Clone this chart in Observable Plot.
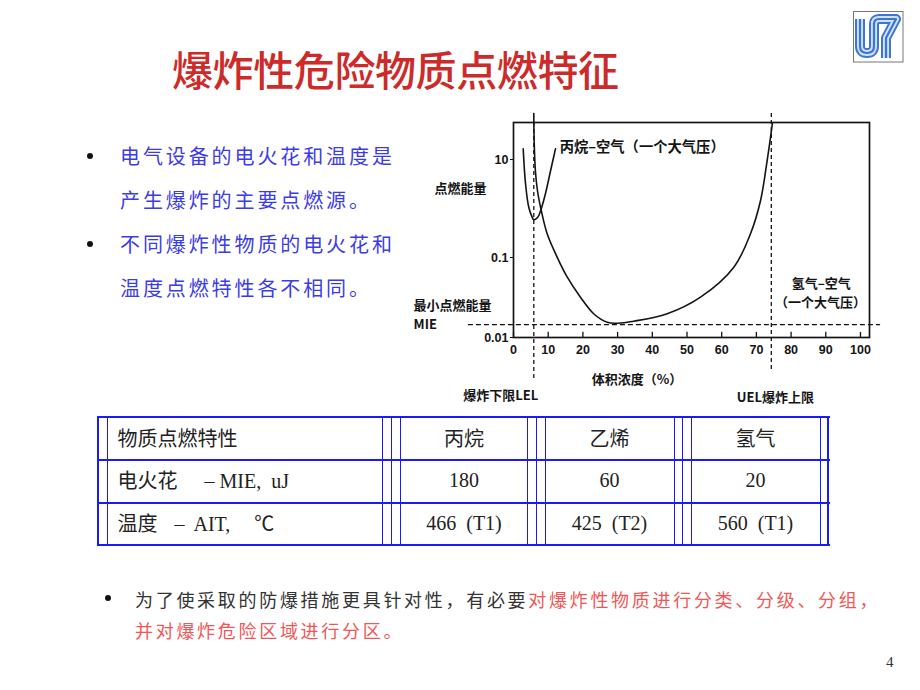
<!DOCTYPE html>
<html>
<head>
<meta charset="utf-8">
<script src="https://cdn.jsdelivr.net/npm/d3@7"></script>
<script src="https://cdn.jsdelivr.net/npm/@observablehq/plot@0.6"></script>
<style>
  body { margin: 0; background: #fff; }
  #slide { position: relative; width: 920px; height: 690px; overflow: hidden; background: #fff;
           font-family: "Noto Sans CJK SC", "Noto Sans", sans-serif; }
  #chart { position: absolute; left: 0; top: 0; }
  #chart svg { background: transparent; }
  .abs { position: absolute; white-space: nowrap; }
  .title { left: 172px; top: 46px; font-size: 41px; line-height: 44px; color: #cd2a2a; font-weight: 500; letter-spacing: -0.4px; }
  .bl { left: 120px; font-size: 20px; line-height: 30px; height: 30px; color: #3c3ce6; letter-spacing: 2.9px; }
  .dot { position: absolute; width: 6px; height: 6px; border-radius: 50%; background: #111; }
  .hl { position: absolute; background: #1a1aff; height: 2px; }
  .vl { position: absolute; background: #1a1aff; width: 1px; }
  .cell { position: absolute; height: 30px; line-height: 30px; font-size: 20px; color: #222; white-space: nowrap; }
  .num { font-family: "Liberation Serif", "Noto Sans CJK SC", serif; }
  .ctr { transform: translateX(-50%); }
  .bottom { left: 135px; font-size: 18px; line-height: 30px; height: 30px; color: #333; letter-spacing: 2.7px; }
  .red { color: #f25555; }
  .page { left: 886px; top: 654px; font-family: "Liberation Serif", serif; font-size: 15px; color: #333; }
</style>
</head>
<body>
<div id="slide">
  <div id="chart"></div>
  <svg class="abs" style="left:853px;top:11px" width="51" height="52" viewBox="853 11 51 52">
    <rect x="853.5" y="11.5" width="49.5" height="50.5" fill="#fff" stroke="#777" stroke-width="1"/>
    <path d="M860 19 V46 Q860 53 867 53 Q874 53 874 46 V24 Q874 19 879 19 H896 L886 38 V58" fill="none" stroke="#3d74d6" stroke-width="10" stroke-linejoin="round"/>
    <path d="M860 19 V46 Q860 53 867 53 Q874 53 874 46 V24 Q874 19 879 19 H896 L886 38 V58" fill="none" stroke="#cfe3ff" stroke-width="6" stroke-linejoin="round"/>
    <path d="M860 19 V46 Q860 53 867 53 Q874 53 874 46 V24 Q874 19 879 19 H896 L886 38 V58" fill="none" stroke="#3d74d6" stroke-width="2.2" stroke-linejoin="round"/>
  </svg>
  <div class="abs title" id="title"></div>
  <div id="bullets"></div>
  <div id="table"></div>
  <div id="bottom"></div>
  <div class="abs page">4</div>
</div>
<script>
// ---------- data ----------
const titleText = "爆炸性危险物质点燃特征";
const bulletLines = [
  ["电气设备的电火花和温度是", "产生爆炸的主要点燃源。"],
  ["不同爆炸性物质的电火花和", "温度点燃特性各不相同。"]
];
const bottomBlack = "为了使采取的防爆措施更具针对性，有必要";
const bottomRed1 = "对爆炸性物质进行分类、分级、分组，";
const bottomRed2 = "并对爆炸危险区域进行分区。";

const tableHeader = ["物质点燃特性", "丙烷", "乙烯", "氢气"];
const mieValues = ["180", "60", "20"];
const aitValues = ["466  (T1)", "425  (T2)", "560  (T1)"];

// chart: volume concentration (%) vs ignition energy (log)
const propaneX = [2.8, 3.46, 4.4, 5.4, 5.85, 7.0, 8.0, 9.2, 10.7, 12.1];
const propaneY = [16.5, 3.24, 1.06, 0.66, 0.59, 0.66, 0.99, 2.0, 5.97, 16.5];
const hydrogenX = [5.85, 5.95, 6.3, 6.9, 8.0, 9.7, 12.6, 15.5, 19.3, 23.1, 27.0, 29.9, 34.7, 44.3, 53.9, 63.5, 68.3, 71.2, 73.1, 74.6];
const hydrogenY = [87, 24.4, 5.97, 2.33, 0.91, 0.305, 0.101, 0.0568, 0.0319, 0.0198, 0.0155, 0.0151, 0.016, 0.0198, 0.0319, 0.0756, 0.305, 1.46, 9.5, 53.6];
const mieLevel = 0.0145;
const lelX = 5.85;
const uelX = 74.3;
const xTicks = [0, 10, 20, 30, 40, 50, 60, 70, 80, 90, 100];
const yTicks = [0.01, 0.1, 10];
const yBreaks = [0.01, 0.1, 10, 57];
const curveLabels = [
  {text: "丙烷–空气（一个大气压）", x: 13.3, y: 17.6}
];
const startLabels = [
  {text: "最小点燃能量", x: -28.8, y: 0.0250},
  {text: "MIE", x: -28.8, y: 0.0145}
];
const middleLabels = [
  {text: "点燃能量", x: -15.3, y: 2.56},
  {text: "氢气–空气", x: 88.7, y: 0.0475},
  {text: "（一个大气压）", x: 88.5, y: 0.0275},
  {text: "体积浓度（%）", x: 35.6, y: 0.0030},
  {text: "爆炸下限LEL", x: -3.7, y: 0.00188},
  {text: "UEL爆炸上限", x: 75.5, y: 0.00178}
];

// ---------- slide text ----------
document.getElementById("title").textContent = titleText;

const bulletCenters = [[155.7, 200], [244.3, 288.3]];
const bDiv = document.getElementById("bullets");
bulletLines.forEach((lines, i) => {
  const dot = document.createElement("div");
  dot.className = "dot";
  dot.style.left = "87px"; dot.style.top = (bulletCenters[i][0] - 3) + "px";
  bDiv.appendChild(dot);
  lines.forEach((t, j) => {
    const d = document.createElement("div");
    d.className = "abs bl";
    d.style.top = (bulletCenters[i][j] - 15) + "px";
    d.textContent = t;
    bDiv.appendChild(d);
  });
});

// bottom bullet
const bot = document.getElementById("bottom");
const bdot = document.createElement("div");
bdot.className = "dot"; bdot.style.left = "105px"; bdot.style.top = "595px";
bot.appendChild(bdot);
const l1 = document.createElement("div");
l1.className = "abs bottom"; l1.style.top = (598.5 - 15) + "px";
l1.innerHTML = bottomBlack + '<span class="red">' + bottomRed1 + '</span>';
bot.appendChild(l1);
const l2 = document.createElement("div");
l2.className = "abs bottom red"; l2.style.top = (630 - 15) + "px";
l2.textContent = bottomRed2;
bot.appendChild(l2);

// ---------- table ----------
const tb = document.getElementById("table");
const hLines = [417, 460, 502.7, 545];
const vLines = [97.7, 107.3, 382.3, 391, 400, 527.7, 536.7, 545, 674, 682.7, 691, 820, 828.3];
hLines.forEach(y => {
  const d = document.createElement("div");
  d.className = "hl";
  d.style.left = "97px"; d.style.width = "733px"; d.style.top = (y - 1) + "px";
  tb.appendChild(d);
});
vLines.forEach((x, i) => {
  const d = document.createElement("div");
  d.className = "vl";
  const outer = i === 0 || i === vLines.length - 1;
  d.style.width = outer ? "2px" : "1px";
  d.style.left = (x - (outer ? 1 : 0.5)) + "px";
  d.style.top = "416px"; d.style.height = "130px";
  tb.appendChild(d);
});
const rowCenters = [437.5, 480, 522.5];
const colCenters = [464, 609.5, 755.5];
function cell(html, x, yc, cls) {
  const d = document.createElement("div");
  d.className = "cell " + (cls || "");
  d.style.left = x + "px"; d.style.top = (yc - 15) + "px";
  d.innerHTML = html;
  tb.appendChild(d);
}
cell(tableHeader[0], 117.5, rowCenters[0]);
cell('电火花<span class="num" style="margin-left:27px">–</span><span class="num" style="margin-left:5px">MIE,&nbsp;&nbsp;uJ</span>', 117.5, rowCenters[1]);
cell('温度<span class="num" style="margin-left:17px">–</span><span class="num" style="margin-left:9px">AIT,</span><span style="margin-left:24px">℃</span>', 117.5, rowCenters[2]);
colCenters.forEach((cx, i) => {
  cell(tableHeader[i + 1], cx, rowCenters[0], "ctr");
  cell(mieValues[i], cx, rowCenters[1], "num ctr");
  cell(aitValues[i].replace(/ /g, "&nbsp;"), cx, rowCenters[2], "num ctr");
});

// ---------- chart ----------
const propane = propaneX.map((x, i) => ({x, y: propaneY[i]}));
const hydrogen = hydrogenX.map((x, i) => ({x, y: hydrogenY[i]}));
const ink = "#141414";
const cjk = "'Noto Sans CJK SC', 'Liberation Sans', sans-serif";

const plot = Plot.plot({
  width: 920,
  height: 690,
  marginLeft: 513,
  marginRight: 51,
  marginTop: 122,
  marginBottom: 353,
  style: {background: "transparent", fontFamily: "'Liberation Sans', Arial, sans-serif", fontSize: "12.5px", fontWeight: "bold", color: ink},
  x: {domain: [0, 102.6], range: [513, 869], ticks: xTicks, tickSize: 0, tickPadding: 8, tickFormat: d => String(d), label: null},
  y: {type: "log", domain: yBreaks, range: [337, 257, 159, 122], ticks: yTicks, tickSize: 3, tickPadding: 2, tickFormat: d => String(d), label: null},
  marks: [
    Plot.frame({stroke: ink, strokeWidth: 1.7}),
    Plot.ruleX(xTicks, {x: d => d, y1: 0.01, y2: 0.0116, stroke: ink, strokeWidth: 1.3}),
    Plot.ruleY([mieLevel], {y: d => d, x1: -13, x2: 105.8, stroke: ink, strokeWidth: 1.3, strokeDasharray: "5,3"}),
    Plot.ruleX([lelX], {x: d => d, y1: 57, y2: 0.0029, stroke: ink, strokeWidth: 1.3, strokeDasharray: "4,3"}),
    Plot.ruleX([uelX], {x: d => d, y1: 87, y2: 0.0039, stroke: ink, strokeWidth: 1.3, strokeDasharray: "4,3"}),
    Plot.line(propane, {x: "x", y: "y", curve: "catmull-rom", stroke: ink, strokeWidth: 1.6}),
    Plot.line(hydrogen, {x: "x", y: "y", curve: "catmull-rom", stroke: ink, strokeWidth: 1.6}),
    Plot.text(curveLabels, {x: "x", y: "y", text: "text", textAnchor: "start", fontFamily: cjk, fontSize: 14.3, fontWeight: "bold", fill: ink}),
    Plot.text(startLabels, {x: "x", y: "y", text: "text", textAnchor: "start", fontFamily: cjk, fontSize: 13, fontWeight: "bold", fill: ink}),
    Plot.text(middleLabels, {x: "x", y: "y", text: "text", textAnchor: "middle", fontFamily: cjk, fontSize: 13, fontWeight: "bold", fill: ink})
  ]
});
document.getElementById("chart").appendChild(plot);
</script>
</body>
</html>
